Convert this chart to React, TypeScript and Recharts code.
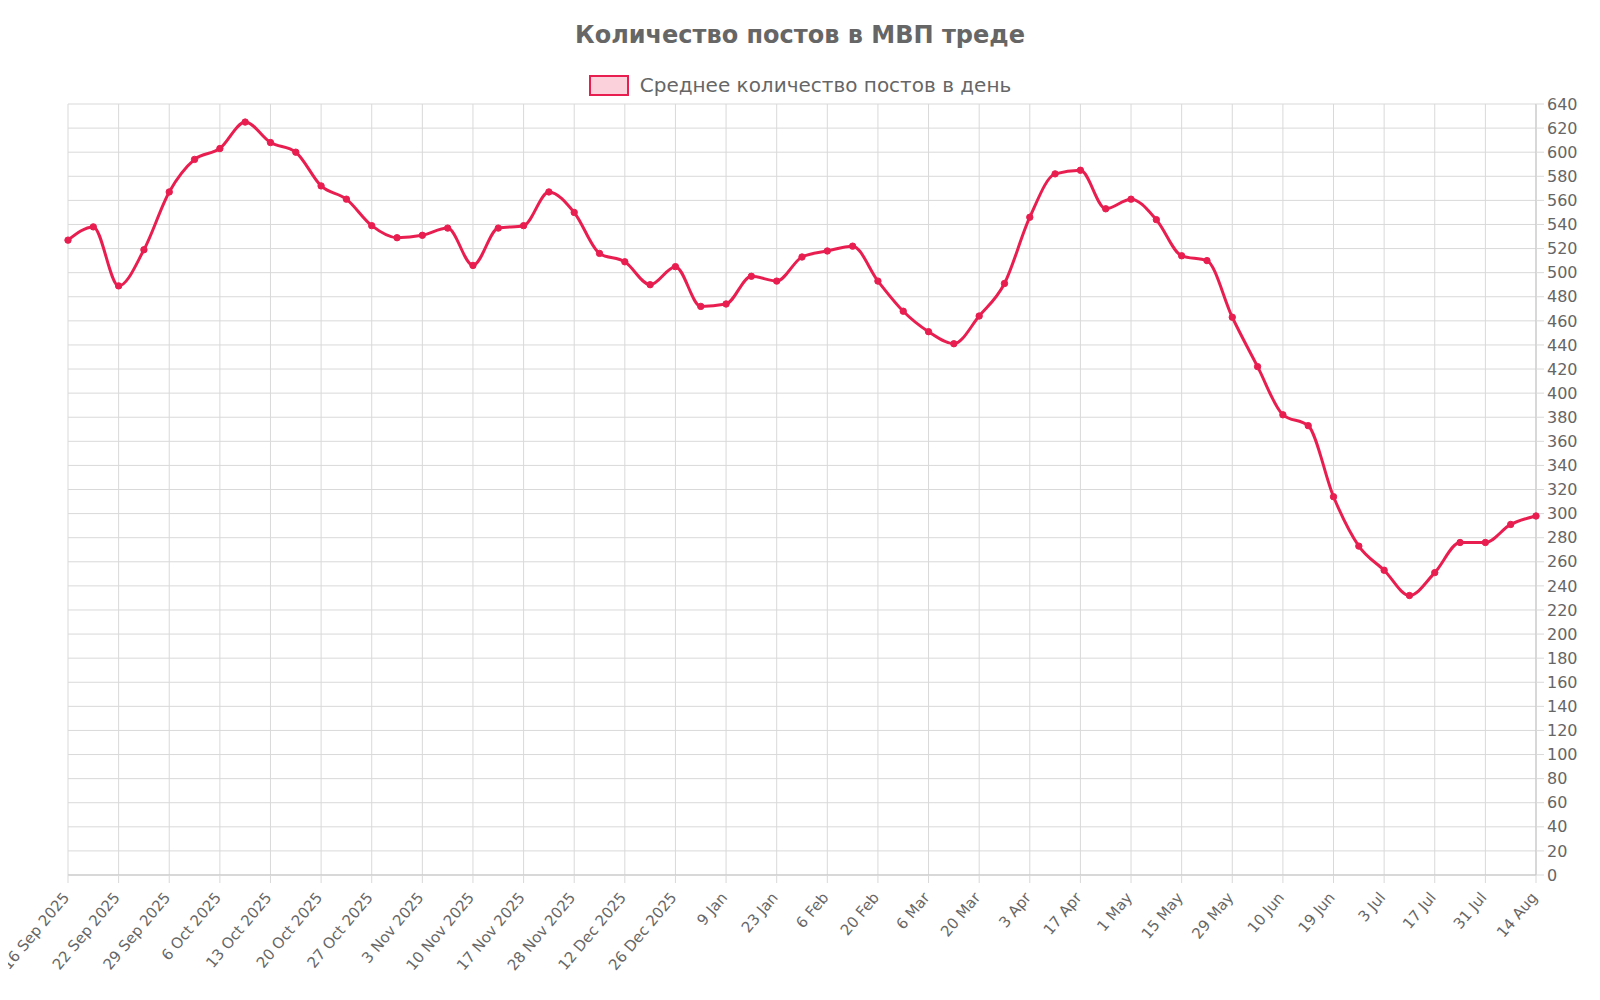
import React from "react";
import { LineChart, Line, XAxis, YAxis, CartesianGrid, Legend } from "recharts";

const title = "Количество постов в МВП треде";
const seriesName = "Среднее количество постов в день";

const tickLabels = [
  "16 Sep 2025", "22 Sep 2025", "29 Sep 2025", "6 Oct 2025", "13 Oct 2025",
  "20 Oct 2025", "27 Oct 2025", "3 Nov 2025", "10 Nov 2025", "17 Nov 2025",
  "28 Nov 2025", "12 Dec 2025", "26 Dec 2025", "9 Jan", "23 Jan",
  "6 Feb", "20 Feb", "6 Mar", "20 Mar", "3 Apr",
  "17 Apr", "1 May", "15 May", "29 May", "10 Jun",
  "19 Jun", "3 Jul", "17 Jul", "31 Jul", "14 Aug",
];

const postsPerDay = [
  527, 538, 489, 519, 567, 594, 603, 625, 608, 600,
  572, 561, 539, 529, 531, 537, 506, 537, 539, 567,
  550, 516, 509, 490, 505, 472, 474, 497, 493, 513,
  518, 522, 493, 468, 451, 441, 464, 491, 546, 582,
  585, 553, 561, 544, 514, 510, 463, 422, 382, 373,
  314, 273, 253, 232, 251, 276, 276, 291, 298,
];

const yTicks = Array.from({ length: 33 }, (_, i) => i * 20);
const xTicks = tickLabels.map((_, i) => i * 2);

const data = postsPerDay.map((v, i) => ({ idx: i, value: v }));

const COLOR = "#e91e50";
const TEXT = "#666666";
const GRID = "#d9d9d9";
const AXIS = "#c4c4c4";
const FONT = "'DejaVu Sans', sans-serif";

const XTick = (props: any) => {
  const { x, y, payload } = props;
  const ax = x - 2;
  const ay = y + 9.5;
  const label = tickLabels[Math.round(payload.value / 2)] ?? "";
  return (
    <text
      x={ax}
      y={ay}
      dy="0.35em"
      textAnchor="end"
      transform={`rotate(-50 ${ax} ${ay})`}
      fill={TEXT}
      fontSize={15}
      fontFamily={FONT}
    >
      {label}
    </text>
  );
};

const LegendContent = () => (
  <div style={{ height: 96, width: 1584, position: "relative", fontFamily: FONT }}>
    <div
      style={{
        position: "absolute",
        top: 12,
        left: 0,
        width: 1584,
        textAlign: "center",
        fontWeight: "bold",
        fontSize: 24,
        color: TEXT,
        lineHeight: "30px",
      }}
    >
      {title}
    </div>
    <div
      style={{
        position: "absolute",
        top: 63,
        left: 0,
        width: 1584,
        display: "flex",
        justifyContent: "center",
        alignItems: "center",
        height: 28,
      }}
    >
      <span
        style={{
          display: "inline-block",
          width: 36,
          height: 17,
          border: `2px solid ${COLOR}`,
          background: "rgba(233,30,80,0.2)",
          marginRight: 11,
        }}
      />
      <span style={{ fontSize: 20, color: TEXT }}>{seriesName}</span>
    </div>
  </div>
);

export default function App() {
  return (
    <LineChart
      width={1584}
      height={984}
      data={data}
      margin={{ top: 0, right: 0, left: 60, bottom: 0 }}
      style={{ fontFamily: FONT }}
    >
      <Legend verticalAlign="top" align="center" content={<LegendContent />} wrapperStyle={{ top: 0, left: 0 }} />
      <CartesianGrid stroke={GRID} strokeWidth={1} />
      <XAxis
        dataKey="idx"
        type="number"
        domain={[0, 58]}
        ticks={xTicks}
        interval={0}
        height={117}
        tickSize={8}
        tickMargin={2}
        tickLine={{ stroke: GRID }}
        axisLine={{ stroke: AXIS }}
        tick={<XTick />}
      />
      <YAxis
        orientation="right"
        domain={[0, 640]}
        ticks={yTicks}
        interval={0}
        width={56}
        tickSize={8}
        tickMargin={3}
        tickLine={{ stroke: GRID }}
        axisLine={{ stroke: AXIS }}
        tick={{ fill: TEXT, fontSize: 16, fontFamily: FONT }}
      />
      <Line
        dataKey="value"
        name={seriesName}
        type="monotone"
        stroke={COLOR}
        strokeWidth={3}
        dot={{ r: 3.2, fill: COLOR, stroke: COLOR, strokeWidth: 1 }}
        activeDot={false}
        isAnimationActive={false}
      />
    </LineChart>
  );
}
